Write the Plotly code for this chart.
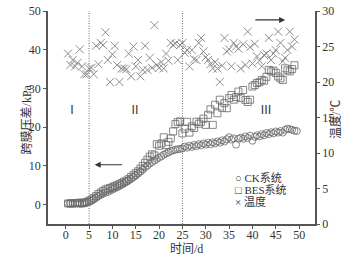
import plotly.graph_objects as go

# ---------------- data ----------------
ck_days = [0.5 * i for i in range(1, 100)]  # 0.5 ... 49.5
ck_tmp = [0.3, 0.3, 0.3, 0.3, 0.3, 0.2, 0.2, 0.3, 0.5, 0.7,
          1.0, 1.4, 1.8, 2.2, 2.5, 2.8, 3.1, 3.3, 3.6, 3.9,
          4.2, 4.5, 4.8, 5.1, 5.5, 5.9, 6.3, 6.7, 7.1, 7.5,
          8.0, 8.5, 9.0, 9.6, 10.1, 10.6, 11.0, 11.4, 11.8, 12.1,
          12.5, 12.9, 13.2, 13.5, 13.8, 14.0, 14.2, 14.3, 14.4, 14.5,
          15.0, 14.7, 15.2, 14.9, 15.4, 15.1, 15.6, 15.3, 15.8, 15.5,
          16.0, 15.6, 16.1, 15.8, 16.3, 16.0, 16.6, 16.3, 16.9, 17.4,
          16.8, 17.1, 15.5, 17.0, 17.3, 17.0, 17.6, 17.2, 17.8, 16.5,
          17.5, 17.9, 17.6, 18.2, 17.9, 18.5, 18.2, 18.7, 18.4, 18.9,
          18.6, 19.0, 18.6, 19.3, 19.6, 19.5, 19.3, 19.1, 19.0]

bes_days = [0.5 * i for i in range(1, 99)]  # 0.5 ... 49
bes_tmp = [0.3, 0.3, 0.3, 0.4, 0.4, 0.5, 0.5, 0.5, 0.7, 1.0,
           1.3, 1.7, 2.2, 2.7, 3.1, 3.5, 3.9, 4.1, 4.3, 4.5,
           4.8, 5.0, 5.3, 5.6, 5.9, 6.2, 6.6, 7.1, 7.6, 8.1,
           8.6, 9.3, 10.0, 10.8, 11.6, 12.4, 13.0, 12.7, 15.6, 15.2,
           15.8, 17.4, 15.4, 16.2, 17.1, 18.9, 20.8, 21.3, 21.5, 18.4,
           19.6, 21.4, 18.6, 20.2, 19.8, 21.4, 20.9, 21.4, 22.2, 20.6,
           23.2, 24.6, 20.6, 25.8, 23.6, 27.1, 25.0, 26.2, 24.9, 27.5,
           28.3, 27.1, 27.8, 29.2, 27.5, 29.6, 27.0, 26.5, 27.1, 30.5,
           30.9, 31.4, 31.6, 32.2, 32.0, 33.0, 34.8, 34.4, 34.6, 34.0,
           33.1, 32.6, 32.2, 35.2, 34.7, 34.4, 35.0, 36.0]

temp_days = [0.5 * i for i in range(1, 99)]  # 0.5 ... 49
temperature = [24.0, 22.4, 23.1, 22.2, 22.7, 24.6, 22.2, 21.1, 21.1, 21.9,
               22.0, 21.1, 25.1, 22.5, 25.5, 25.2, 27.0, 23.1, 20.0, 23.9,
               25.1, 22.4, 20.0, 21.9, 21.9, 21.8, 24.0, 20.8, 25.0, 22.2,
               23.1, 20.8, 21.7, 25.1, 21.7, 23.4, 22.0, 28.0, 22.4, 22.0,
               22.8, 21.9, 24.0, 23.0, 25.5, 25.2, 25.4, 23.1, 25.2, 25.5,
               24.1, 24.5, 22.2, 24.5, 23.2, 23.1, 25.5, 26.2, 24.3, 23.5,
               23.1, 22.5, 21.9, 22.8, 21.9, 20.0, 22.3, 26.2, 24.3, 24.6,
               22.2, 25.5, 25.0, 24.7, 21.9, 25.3, 22.4, 27.1, 24.9, 22.6,
               25.4, 23.6, 23.0, 22.2, 23.8, 24.0, 26.2, 23.1, 24.0, 24.5,
               27.1, 25.5, 22.9, 23.4, 24.5, 27.1, 25.0, 26.0]

phase_bounds = [5, 25]
phase_labels = ["Ⅰ", "Ⅱ", "Ⅲ"]
phase_label_x = [1.3, 14.8, 42.9]

x_ticks = list(range(0, 51, 5))
y_ticks = list(range(0, 51, 10))
y2_ticks = list(range(0, 31, 5))

legend_items = ["○ CK系统", "□ BES系统", "× 温度"]

# ---------------- figure ----------------
SERIF = "Liberation Serif, Times New Roman, Noto Sans CJK SC"
AXC = "#555555"
MK = "#6a6a6a"

fig = go.Figure()
fig.add_trace(go.Scatter(x=ck_days, y=ck_tmp, mode="markers", name="CK系统",
                         marker=dict(symbol="circle-open", size=7, color=MK,
                                     line=dict(width=0.8, color=MK))))
fig.add_trace(go.Scatter(x=bes_days, y=bes_tmp, mode="markers", name="BES系统",
                         marker=dict(symbol="square-open", size=7, color=MK,
                                     line=dict(width=0.8, color=MK))))
fig.add_trace(go.Scatter(x=temp_days, y=temperature, mode="markers", name="温度",
                         yaxis="y2",
                         marker=dict(symbol="x-thin", size=8, color="#808080",
                                     line=dict(width=0.9, color="#808080"))))

for b in phase_bounds:
    fig.add_shape(type="line", xref="x", yref="paper", x0=b, x1=b, y0=0, y1=1,
                  line=dict(color="#666666", width=1, dash="1px,1.5px"))

for lab, lx in zip(phase_labels, phase_label_x):
    fig.add_annotation(x=lx, y=24.5, xref="x", yref="y", text=lab, showarrow=False,
                       font=dict(family=SERIF, size=12, color="#333333"))

# arrows
fig.add_annotation(x=47.0, y=47.7, ax=40.3, ay=47.7, xref="x", yref="y",
                   axref="x", ayref="y", text="", showarrow=True, arrowhead=2,
                   arrowsize=1, arrowwidth=1.2, arrowcolor="#333333")
fig.add_annotation(x=6.2, y=10.3, ax=12.4, ay=10.3, xref="x", yref="y",
                   axref="x", ayref="y", text="", showarrow=True, arrowhead=2,
                   arrowsize=1, arrowwidth=1.2, arrowcolor="#333333")

# legend as text entries
for i, t in enumerate(legend_items):
    fig.add_annotation(x=0.693, y=0.218 - i * 0.057, xref="paper", yref="paper",
                       text=t, showarrow=False, xanchor="left", yanchor="middle",
                       font=dict(family=SERIF, size=11, color="#333333"))

# axis titles
fig.add_annotation(x=-0.113, y=0.49, xref="paper", yref="paper", text="跨膜压差/kPa",
                   showarrow=False, textangle=-90,
                   font=dict(family=SERIF, size=12, color="#333333"))
fig.add_annotation(x=1.112, y=0.49, xref="paper", yref="paper", text="温度/℃",
                   showarrow=False, textangle=-90,
                   font=dict(family=SERIF, size=12, color="#333333"))
fig.add_annotation(x=0.52, y=-0.118, xref="paper", yref="paper", text="时间/d",
                   showarrow=False, yanchor="middle",
                   font=dict(family=SERIF, size=12, color="#333333"))

common = dict(showgrid=False, zeroline=False, showline=True, linecolor=AXC,
              linewidth=1.5, ticks="outside", ticklen=3, tickcolor=AXC,
              automargin=False, ticklabeloverflow="allow",
              tickfont=dict(family=SERIF, size=12, color="#333333"))

fig.update_layout(
    width=362, height=259,
    margin=dict(l=48, r=47, t=11, b=35),
    paper_bgcolor="white", plot_bgcolor="white",
    showlegend=False,
    font=dict(family=SERIF, size=12, color="#333333"),
    xaxis=dict(range=[-3.8, 53.4], tickvals=x_ticks, ticklabelstandoff=-4, **common),
    yaxis=dict(range=[-5, 50], tickvals=y_ticks, **common),
    yaxis2=dict(range=[0, 30], tickvals=y2_ticks, overlaying="y", side="right",
                **common),
)

# remove the page's default 8px body margin so the figure sits at (0, 0)
fig.write_html("out.html", config={"displayModeBar": False},
               post_script="document.body.style.margin='0';document.body.style.padding='0';")
